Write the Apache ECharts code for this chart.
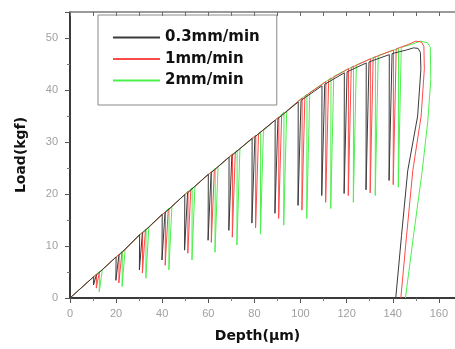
<!DOCTYPE html>
<html>
<head>
<meta charset="utf-8">
<script src="https://cdn.jsdelivr.net/npm/echarts@6/dist/echarts.min.js"></script>
<style>
  html, body { margin: 0; padding: 0; background: #fff; }
  #chart { width: 455px; height: 349px; }
</style>
</head>
<body>
<div id="chart"></div>
<script>
// series names, as in the legend
const seriesNames = ['0.3mm/min', '1mm/min', '2mm/min'];
const seriesColors = ['#3a3a3a', '#ff4a4a', '#4cf04c'];

// [depth (um), load (kgf)], one list per loading rate
const slowCurve = [
  [0, 0],
  [10.3, 4.1], [10.2, 2.5], [11.4, 4.4],
  [20.0, 7.9], [19.9, 3.4], [21.2, 8.2],
  [30.2, 12.2], [30.1, 5.4], [31.4, 12.5],
  [40.0, 16.1], [39.9, 7.3], [41.2, 16.4],
  [49.8, 19.9], [49.7, 9.2], [51.0, 20.2],
  [60.0, 23.8], [59.9, 11.1], [61.2, 24.1],
  [69.0, 27.1], [68.9, 13.0], [70.2, 27.4],
  [79.0, 30.7], [78.9, 14.4], [80.2, 31.0],
  [89.0, 34.2], [88.9, 16.3], [90.2, 34.5],
  [99.0, 37.7], [98.9, 17.8], [100.2, 38.0],
  [109.3, 40.8], [109.2, 19.7], [110.5, 41.1],
  [119.0, 43.3], [118.9, 20.1], [120.2, 43.5],
  [128.5, 45.2], [128.4, 20.8], [129.7, 45.4],
  [138.5, 46.8], [138.4, 22.6], [139.7, 47.0],
  [146.0, 47.7], [149.0, 48.1], [151.0, 48.0], [152.0, 47.2],
  [152.2, 44.0], [150.8, 35.0], [146.5, 24.5], [143.8, 12.0], [141.3, 0]
];

const midCurve = [
  [0, 0],
  [11.5, 4.6], [11.4, 1.9], [12.7, 4.9],
  [21.3, 8.4], [21.2, 2.9], [22.5, 8.7],
  [31.5, 12.7], [31.4, 4.8], [32.7, 13.0],
  [41.4, 16.6], [41.3, 6.3], [42.6, 16.9],
  [51.2, 20.5], [51.1, 8.6], [52.4, 20.8],
  [61.4, 24.3], [61.3, 10.7], [62.6, 24.6],
  [70.5, 27.7], [70.4, 11.7], [71.7, 28.0],
  [80.6, 31.3], [80.5, 13.5], [81.8, 31.6],
  [90.6, 34.8], [90.5, 15.3], [91.8, 35.1],
  [100.7, 38.5], [100.6, 16.9], [101.9, 38.8],
  [111.0, 41.6], [110.9, 18.4], [112.2, 41.9],
  [120.8, 44.1], [120.7, 19.7], [122.0, 44.3],
  [130.3, 46.0], [130.2, 20.2], [131.5, 46.2],
  [140.3, 47.7], [140.2, 21.8], [141.5, 47.9],
  [147.0, 48.8], [150.0, 49.4], [152.5, 49.2], [153.5, 48.4],
  [153.7, 44.0], [152.3, 35.0], [148.7, 24.5], [146.0, 12.0], [143.5, 0]
];

const fastCurve = [
  [0, 0],
  [12.8, 5.1], [12.7, 1.2], [14.0, 5.4],
  [22.7, 9.0], [22.6, 2.2], [23.9, 9.3],
  [33.0, 13.3], [32.9, 3.8], [34.2, 13.6],
  [43.0, 17.3], [42.9, 5.4], [44.2, 17.6],
  [53.0, 21.2], [52.9, 7.3], [54.2, 21.5],
  [63.0, 24.9], [62.9, 8.8], [64.2, 25.2],
  [72.5, 28.4], [72.4, 10.2], [73.7, 28.7],
  [82.7, 31.9], [82.6, 12.3], [83.9, 32.2],
  [92.8, 35.7], [92.7, 14.0], [94.0, 36.0],
  [102.8, 39.2], [102.7, 15.3], [104.0, 39.5],
  [113.2, 42.3], [113.1, 17.2], [114.4, 42.6],
  [123.0, 44.6], [122.9, 18.4], [124.2, 44.8],
  [132.5, 46.4], [132.4, 19.7], [133.7, 46.6],
  [142.5, 48.0], [142.4, 21.3], [143.7, 48.2],
  [149.0, 48.9], [152.0, 49.4], [155.0, 49.1], [156.3, 48.2],
  [156.5, 42.0], [155.2, 34.0], [152.8, 24.5], [149.0, 12.0], [145.5, 0]
];

const curves = [slowCurve, midCurve, fastCurve];

const chart = echarts.init(document.getElementById('chart'), null, { renderer: 'canvas' });

const tickLabel = { color: '#a0a0a0', fontSize: 11, fontFamily: 'Liberation Sans' };
const titleFont = { color: '#111', fontSize: 14, fontWeight: 'bold', fontFamily: 'DejaVu Sans' };

// draw the fastest first so the black curve sits on top
const series = [2, 1, 0].map(i => ({
  name: seriesNames[i],
  type: 'line',
  data: curves[i],
  symbol: 'none',
  smooth: false,
  animation: false,
  lineStyle: { color: seriesColors[i], width: 1 },
  itemStyle: { color: seriesColors[i] }
}));

chart.setOption({
  backgroundColor: '#fff',
  animation: false,
  grid: { left: 70, right: 0, top: 12, bottom: 51, containLabel: false },
  legend: {
    data: seriesNames.map((n, i) => ({ name: n, icon: 'rect', itemStyle: { color: seriesColors[i] } })),
    orient: 'vertical',
    left: 98,
    top: 15,
    padding: [15, 17, 17, 15],
    itemWidth: 47,
    itemHeight: 2,
    itemGap: 6.5,
    borderColor: '#8a8a8a',
    borderWidth: 1,
    textStyle: { color: '#111', fontSize: 15, lineHeight: 14, fontWeight: 'bold', fontFamily: 'DejaVu Sans' }
  },
  xAxis: [
    {
      type: 'value',
      position: 'bottom',
      min: 0,
      max: 167,
      interval: 20,
      name: 'Depth(\u03bcm)',
      nameLocation: 'middle',
      nameGap: 31,
      nameTextStyle: Object.assign({ padding: [0, 10, 0, 0] }, titleFont),
      axisLine: { onZero: false, lineStyle: { color: '#3a3a3a', width: 2 } },
      axisTick: { length: 5, lineStyle: { color: '#555' } },
      minorTick: { show: true, splitNumber: 2, length: 3, lineStyle: { color: '#777' } },
      axisLabel: Object.assign({ margin: 10, showMaxLabel: false }, tickLabel),
      splitLine: { show: false }
    },
    {
      type: 'value',
      position: 'top',
      min: 0,
      max: 167,
      interval: 10,
      axisLine: { onZero: false, lineStyle: { color: '#9a9a9a', width: 2 } },
      axisTick: { inside: true, length: 4, lineStyle: { color: '#666' } },
      axisLabel: { show: false },
      splitLine: { show: false }
    }
  ],
  yAxis: {
    type: 'value',
    min: 0,
    max: 55,
    interval: 10,
    name: 'Load(kgf)',
    nameLocation: 'middle',
    nameGap: 42,
    nameTextStyle: titleFont,
    axisLine: { show: true, onZero: false, lineStyle: { color: '#3a3a3a', width: 2 } },
    axisTick: { show: true, length: 5, lineStyle: { color: '#555' } },
    minorTick: { show: true, splitNumber: 2, length: 3, lineStyle: { color: '#777' } },
    axisLabel: Object.assign({ margin: 12, showMaxLabel: false }, tickLabel),
    splitLine: { show: false }
  },
  series: series
});
</script>
</body>
</html>
